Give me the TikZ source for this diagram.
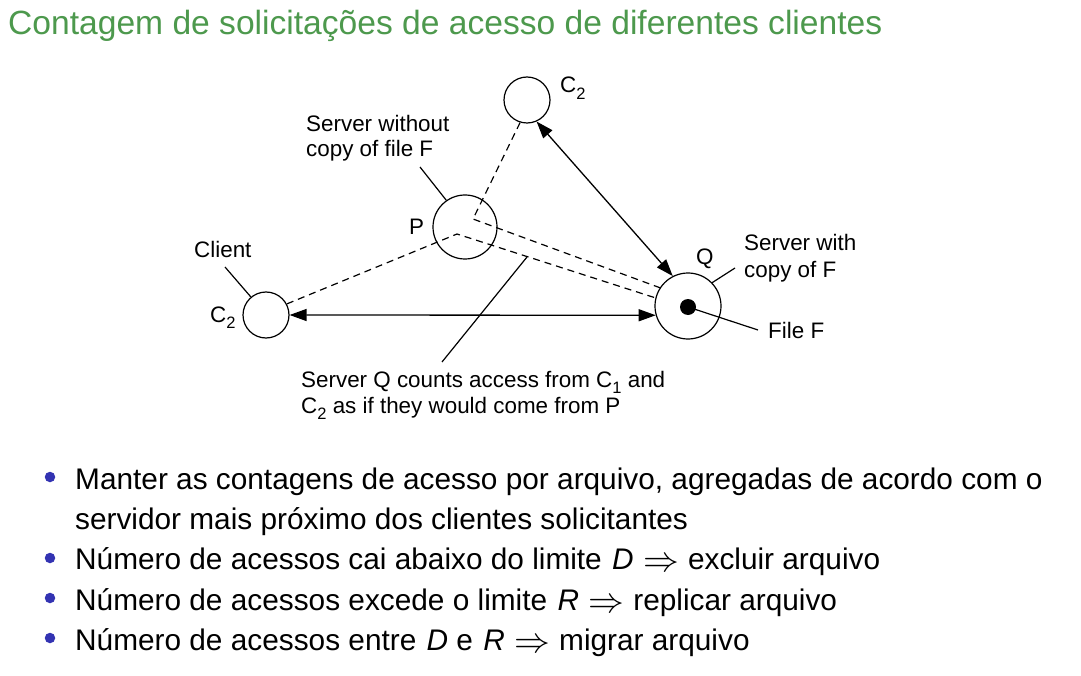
\documentclass[tikz,border=0pt]{standalone}
\usepackage{fix-cm}
\usepackage{fontspec}
\setmainfont{Liberation Sans}
\usetikzlibrary{arrows.meta}
\definecolor{titlegreen}{RGB}{77,153,77}
\definecolor{bulletblue}{RGB}{51,51,178}
% lowered index digit for host names
\newcommand\idx[1]{\raisebox{-0.3em}{\fontsize{16.5}{16.5}\selectfont #1}}
% italic variable and implication arrow
\newcommand\vname[1]{\hspace{2pt}\textit{#1}}
\newcommand\impl{\hspace{1pt}\raisebox{-0.08em}{\scalebox{1.2}{$\Rightarrow$}}\hspace{1pt}}

\begin{document}
\begin{tikzpicture}[x=1pt,y=-1pt,
  host/.style={draw, circle, line width=1.2pt, inner sep=0pt, minimum size=#1},
  lbl/.style={anchor=base west, inner sep=0pt, font=\fontsize{22.4}{26}\selectfont},
  dashline/.style={dash pattern=on 7pt off 5pt, line width=1.2pt},
  link/.style={line width=1.3pt, {Triangle[length=17pt,width=12pt]}-{Triangle[length=17pt,width=12pt]}},
  leader/.style={line width=1.2pt},
  body/.style={anchor=base west, inner sep=0pt, font=\fontsize{29.8}{36}\selectfont},
  bul/.style={circle, fill=bulletblue, inner sep=0pt, minimum size=10.5pt}
]
\useasboundingbox (0,0) rectangle (1081,676);

% heading
\node[anchor=base west, inner sep=0pt, text=titlegreen, font=\fontsize{33.6}{40}\selectfont]
  (title) at (8,35) {Contagem de solicitações de acesso de diferentes clientes};

% hosts
\node[host=46pt] (c2t) at (527,100) {};
\node[host=64pt] (p)   at (465,227) {};
\node[host=66pt] (q)   at (688,306) {};
\node[host=46pt] (cl)  at (266,315) {};
\node[circle, fill=black, inner sep=0pt, minimum size=16pt] (f) at (688,307) {};

% bend points inside P
\coordinate (pa) at ([shift={(8,-8)}]p.center);
\coordinate (pb) at ([shift={(-8,7)}]p.center);

% indirect routes through P
\draw[dashline] (c2t.253) -- (pa) -- (q.147);
\draw[dashline] (cl.28) -- (pb) -- (q.166);

% direct accesses
\draw[link] (c2t.-66) -- (q.117);
\draw[link] (cl.0) -- (q.196);

% labels
\node[lbl] (lc2t) at (560,93) {C\idx{2}};
\node[lbl] (lsw1) at (306,132) {Server without};
\node[lbl] (lsw2) at (306,157) {copy of file F};
\node[lbl] (lp)   at (409,235) {P};
\node[lbl] (lcli) at (194,258) {Client};
\node[lbl] (lc2l) at (210,322) {C\idx{2}};
\node[lbl] (lq)   at (696,265) {Q};
\node[lbl] (lsq1) at (744,251) {Server with};
\node[lbl] (lsq2) at (744,277) {copy of F};
\node[lbl] (lff)  at (768,338) {File F};
\node[lbl] (lsc1) at (301,387) {Server Q counts access from C\idx{1} and};
\node[lbl] (lsc2) at (301,413) {C\idx{2} as if they would come from P};

% leader lines
\coordinate (ksw) at (420,167);
\coordinate (kcli) at (225,267);
\coordinate (ksq) at (735,268);
\coordinate (kff) at (758,330);
\coordinate (ksc) at (442,362);
\coordinate (kdl) at (527,257);
\draw[leader] (ksw) -- (p.125);
\draw[leader] (kcli) -- (cl.130);
\draw[leader] (q.44) -- (ksq);
\draw[leader] (f.center) -- (kff);
\draw[leader] (ksc) -- (kdl);

% bullet list
\node[bul] (b1) at (50,477) {};
\node[bul] (b2) at (50,558) {};
\node[bul] (b3) at (50,598) {};
\node[bul] (b4) at (50,638) {};
\node[body] (t1a) at (75,489) {Manter as contagens de acesso por arquivo, agregadas de acordo com o};
\node[body] (t1b) at (75,529) {servidor mais próximo dos clientes solicitantes};
\node[body] (t2) at (75,569) {Número de acessos cai abaixo do limite \vname{D} \impl{} excluir arquivo};
\node[body] (t3) at (75,610) {Número de acessos excede o limite \vname{R} \impl{} replicar arquivo};
\node[body] (t4) at (75,650) {Número de acessos entre \vname{D} e \vname{R} \impl{} migrar arquivo};
\end{tikzpicture}
\end{document}
